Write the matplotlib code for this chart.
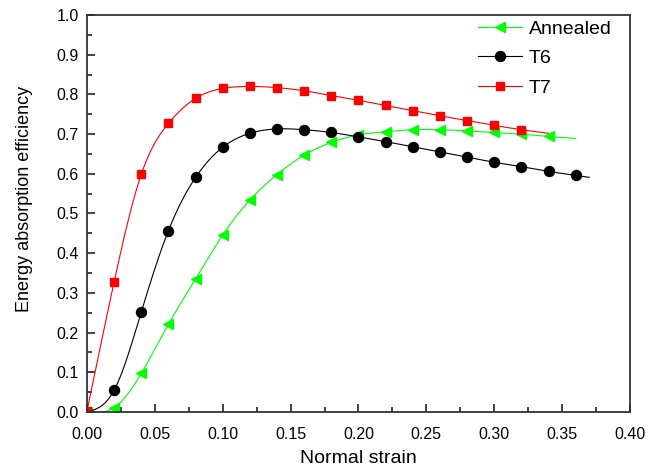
import numpy as np
import matplotlib

matplotlib.use("Agg")
import matplotlib.pyplot as plt
from matplotlib.ticker import MultipleLocator

plt.rcParams["font.family"] = ["Liberation Sans", "DejaVu Sans"]

# measured points (every 0.02 strain), last value of each list is the curve tail
strain_annealed = [0.00, 0.02, 0.04, 0.06, 0.08, 0.10, 0.12, 0.14, 0.16, 0.18,
                   0.20, 0.22, 0.24, 0.26, 0.28, 0.30, 0.32, 0.34, 0.36]
eff_annealed = [0.000, 0.011, 0.097, 0.221, 0.335, 0.446, 0.534, 0.598, 0.647, 0.679,
                0.698, 0.706, 0.711, 0.711, 0.708, 0.704, 0.700, 0.694, 0.689]

strain_t6 = [0.00, 0.02, 0.04, 0.06, 0.08, 0.10, 0.12, 0.14, 0.16, 0.18,
             0.20, 0.22, 0.24, 0.26, 0.28, 0.30, 0.32, 0.34, 0.36, 0.37]
eff_t6 = [0.000, 0.055, 0.252, 0.457, 0.591, 0.667, 0.702, 0.713, 0.711, 0.704,
          0.693, 0.681, 0.668, 0.655, 0.642, 0.629, 0.618, 0.606, 0.596, 0.591]

strain_t7 = [0.00, 0.02, 0.04, 0.06, 0.08, 0.10, 0.12, 0.14, 0.16, 0.18,
             0.20, 0.22, 0.24, 0.26, 0.28, 0.30, 0.32, 0.34]
eff_t7 = [0.003, 0.328, 0.599, 0.727, 0.790, 0.815, 0.820, 0.817, 0.809, 0.797,
          0.785, 0.772, 0.759, 0.746, 0.734, 0.722, 0.711, 0.702]


def natural_spline(x, y, n=400):
    x = np.asarray(x, float)
    y = np.asarray(y, float)
    m = len(x)
    h = np.diff(x)
    A = np.zeros((m, m))
    b = np.zeros(m)
    A[0, 0] = A[-1, -1] = 1.0
    for i in range(1, m - 1):
        A[i, i - 1] = h[i - 1]
        A[i, i] = 2 * (h[i - 1] + h[i])
        A[i, i + 1] = h[i]
        b[i] = 6 * ((y[i + 1] - y[i]) / h[i] - (y[i] - y[i - 1]) / h[i - 1])
    M = np.linalg.solve(A, b)
    xs = np.linspace(x[0], x[-1], n)
    k = np.clip(np.searchsorted(x, xs) - 1, 0, m - 2)
    t0 = x[k + 1] - xs
    t1 = xs - x[k]
    hk = h[k]
    ys = (M[k] * t0 ** 3 + M[k + 1] * t1 ** 3) / (6 * hk) \
        + (y[k] / hk - M[k] * hk / 6) * t0 + (y[k + 1] / hk - M[k + 1] * hk / 6) * t1
    return xs, ys


series = [
    ("Annealed", strain_annealed, eff_annealed, "#00ff00", "<", 7.5),
    ("T6", strain_t6, eff_t6, "black", "o", 7.2),
    ("T7", strain_t7, eff_t7, "#ff0000", "s", 6.2),
]

fig = plt.figure(figsize=(6.46, 4.68), dpi=100)
ax = fig.add_axes([0.1347, 0.1197, 0.8405, 0.8483])

handles = []
for name, xs, ys, color, marker, ms in series:
    # the tail point only extends the curve, no marker on it
    cx, cy = natural_spline(xs, ys)
    ax.plot(cx, cy, color=color, lw=0.8)
    ax.plot(xs[:-1], ys[:-1], ls="none", marker=marker, ms=ms, color=color, mec=color)
    handles.append(plt.Line2D([], [], color=color, lw=0.8, marker=marker, ms=ms,
                              mec=color, label=name))

ax.set_xlim(0, 0.40)
ax.set_ylim(0, 1.0)
ax.xaxis.set_major_locator(MultipleLocator(0.05))
ax.xaxis.set_minor_locator(MultipleLocator(0.025))
ax.yaxis.set_major_locator(MultipleLocator(0.1))
ax.yaxis.set_minor_locator(MultipleLocator(0.05))
ax.xaxis.set_major_formatter(plt.FormatStrFormatter("%.2f"))
ax.yaxis.set_major_formatter(plt.FormatStrFormatter("%.1f"))
ax.tick_params(which="both", direction="in", top=False, right=False, width=1.2,
               labelsize=11.5, color="#222222")
ax.tick_params(which="major", length=6)
ax.tick_params(which="minor", length=3.5)
ax.tick_params(axis="x", which="major", pad=11)
ax.tick_params(axis="y", which="major", pad=6)
for sp in ax.spines.values():
    sp.set_linewidth(1.3)
    sp.set_color("#333333")

ax.set_xlabel("Normal strain", fontsize=14)
ax.set_ylabel("Energy absorption efficiency", fontsize=13)
ax.xaxis.set_label_coords(0.5, -0.097)
ax.yaxis.set_label_coords(-0.0995, 0.5365)

fig.legend(handles=handles, loc="upper left", frameon=False, fontsize=14,
           handlelength=2.27, handletextpad=0.35, labelspacing=0.61,
           borderpad=0, borderaxespad=0, bbox_to_anchor=(478 / 646, 1 - 20 / 468))

fig.savefig("out.png", dpi=100)
